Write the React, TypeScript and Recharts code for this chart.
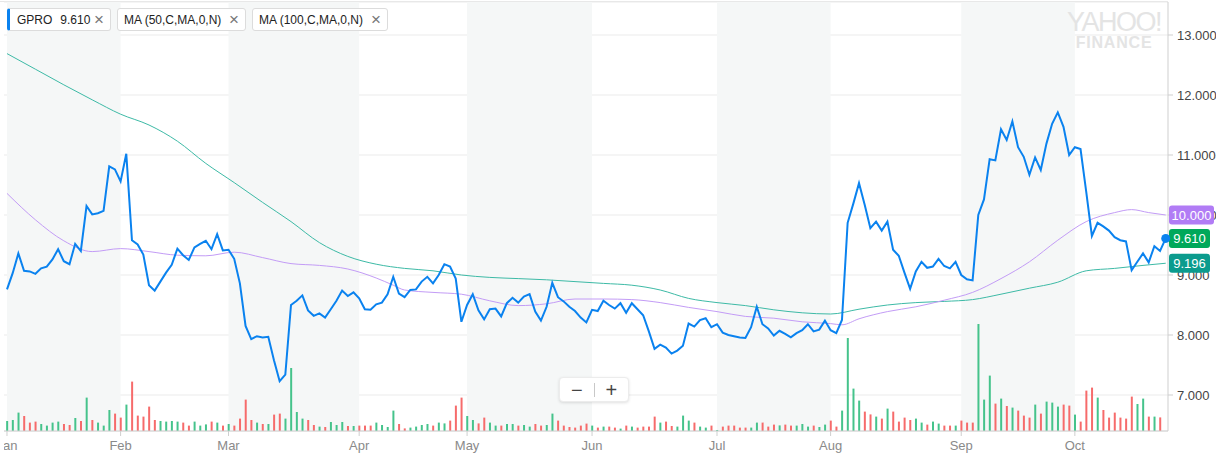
import React from 'react';
import {
  ComposedChart,
  Line,
  Bar,
  Cell,
  XAxis,
  YAxis,
  CartesianGrid,
  ReferenceArea,
  ReferenceLine,
  ReferenceDot,
} from 'recharts';

// GPRO daily closes, Jan 3 – late Oct (one value per trading day)
const CLOSE = [
  8.76, 9.03, 9.36, 9.07, 9.06, 9.02, 9.11, 9.14, 9.26, 9.43,
  9.23, 9.18, 9.52, 9.4, 10.15, 10.01, 10.03, 10.07, 10.81, 10.76,
  10.56, 11.02, 9.58, 9.51, 9.34, 8.83, 8.74, 8.89, 9.04, 9.17,
  9.44, 9.33, 9.25, 9.46, 9.52, 9.57, 9.43, 9.68, 9.41, 9.42,
  9.27, 8.86, 8.15, 7.93, 7.98, 7.96, 7.97, 7.58, 7.23, 7.34,
  8.5, 8.57, 8.66, 8.41, 8.32, 8.36, 8.29, 8.43, 8.57, 8.74,
  8.65, 8.71, 8.61, 8.43, 8.42, 8.51, 8.54, 8.68, 8.97, 8.69,
  8.63, 8.75, 8.76, 8.89, 8.97, 8.86, 9.0, 9.18, 9.14, 8.94,
  8.22, 8.5, 8.68, 8.41, 8.26, 8.43, 8.44, 8.31, 8.53, 8.62,
  8.54, 8.64, 8.68, 8.39, 8.24, 8.47, 8.87, 8.63, 8.56, 8.47,
  8.4, 8.29, 8.21, 8.42, 8.4, 8.57, 8.5, 8.44, 8.53, 8.37,
  8.53, 8.43, 8.33, 8.06, 7.77, 7.84, 7.79, 7.69, 7.74, 7.82,
  8.19, 8.14, 8.25, 8.28, 8.13, 8.18, 8.04, 8.0, 7.98, 7.96,
  7.95, 8.13, 8.47, 8.18, 8.11, 7.99, 8.07, 8.02, 7.96, 8.03,
  8.08, 8.18, 8.06, 8.09, 8.24, 8.08, 8.03, 8.25, 9.87, 10.19,
  10.53, 10.17, 9.78, 9.89, 9.74, 9.89, 9.42, 9.32, 9.04, 8.77,
  9.06, 9.22, 9.12, 9.14, 9.27, 9.15, 9.11, 9.22, 9.0, 8.93,
  8.91, 10.0, 10.26, 10.93, 10.91, 11.43, 11.25, 11.56, 11.13, 10.97,
  10.67, 10.96, 10.75, 11.19, 11.52, 11.71, 11.47, 11.0, 11.13, 11.1,
  10.39, 9.65, 9.87, 9.81, 9.74, 9.63, 9.58, 9.56, 9.08, 9.22,
  9.36, 9.21, 9.48, 9.4, 9.61,
];

// volume in millions of shares (no bar yet for the last day)
const VOLUME = [
  5.0, 5.5, 9.2, 7.5, 4.2, 4.7, 3.5, 2.7, 4.2, 4.7,
  3.5, 3.0, 6.5, 5.0, 16.7, 5.5, 4.2, 2.7, 10.5, 8.7,
  6.7, 13.2, 24.7, 7.7, 7.2, 12.2, 5.5, 5.0, 4.7, 5.0,
  4.7, 4.2, 2.7, 4.7, 2.7, 3.3, 4.7, 4.2, 2.7, 3.5,
  2.7, 6.2, 15.7, 5.5, 4.2, 3.5, 3.5, 8.2, 8.7, 6.2,
  31.5, 9.5, 6.2, 5.5, 3.0, 2.2, 2.0, 4.5, 3.0, 4.5,
  2.5, 2.5, 2.7, 2.7, 2.7, 4.2, 3.0, 2.0, 10.2, 3.5,
  1.3, 1.7, 2.2, 3.0, 3.5, 2.7, 4.2, 3.8, 5.2, 12.7,
  16.7, 7.5, 5.5, 3.8, 6.7, 4.2, 2.7, 2.7, 3.5, 3.5,
  2.7, 3.0, 2.2, 3.5, 2.7, 3.0, 8.7, 5.2, 2.7, 2.0,
  1.7, 2.7, 3.7, 2.7, 1.7, 2.2, 2.2, 1.7, 1.2, 2.7,
  2.2, 1.7, 2.2, 2.2, 7.2, 4.2, 4.7, 2.5, 2.2, 7.7,
  5.2, 4.2, 2.2, 1.7, 2.7, 0.5, 2.2, 2.7, 2.7, 1.7,
  1.7, 1.7, 4.2, 4.2, 2.2, 3.2, 2.8, 3.2, 2.7, 2.7,
  3.5, 2.2, 2.7, 2.0, 3.2, 5.2, 2.2, 10.2, 46.5, 21.2,
  15.2, 9.7, 8.3, 7.2, 6.2, 11.2, 9.7, 4.7, 6.7, 5.5,
  6.2, 4.2, 3.2, 4.7, 3.7, 2.7, 2.7, 2.7, 5.2, 4.2,
  4.2, 53.5, 15.7, 27.7, 13.7, 16.2, 12.5, 11.7, 10.2, 7.7,
  6.7, 13.2, 8.7, 14.7, 14.2, 12.2, 13.2, 12.7, 8.2, 4.7,
  20.2, 21.7, 16.7, 10.5, 6.7, 9.2, 6.7, 6.2, 17.2, 13.5,
  16.2, 7.2, 7.2, 6.8,
];

// moving averages, read every few sessions: [day index, value]
const MA50_POINTS: [number, number][] = [
  [0, 10.36], [5, 9.92], [10, 9.57], [15, 9.39], [20, 9.44], [25, 9.39],
  [30, 9.33], [35, 9.32], [40, 9.38], [45, 9.29], [50, 9.19], [55, 9.16],
  [60, 9.1], [65, 8.95], [68, 8.83], [70, 8.75], [75, 8.71], [80, 8.68],
  [85, 8.57], [90, 8.49], [95, 8.52], [100, 8.6], [105, 8.6], [110, 8.59],
  [115, 8.54], [120, 8.46], [125, 8.39], [130, 8.31], [135, 8.28], [140, 8.22],
  [145, 8.19], [147, 8.17], [150, 8.27], [155, 8.39], [160, 8.47], [165, 8.58],
  [170, 8.71], [175, 8.94], [180, 9.22], [185, 9.58], [190, 9.89], [195, 10.04],
  [198, 10.09], [201, 10.04], [204, 10.0],
];

const MA100_POINTS: [number, number][] = [
  [0, 12.69], [5, 12.43], [10, 12.17], [15, 11.92], [20, 11.68], [25, 11.5],
  [30, 11.23], [35, 10.86], [40, 10.54], [45, 10.21], [50, 9.89], [55, 9.54],
  [60, 9.31], [65, 9.18], [70, 9.11], [75, 9.07], [80, 9.0], [85, 8.96],
  [90, 8.94], [95, 8.92], [100, 8.89], [105, 8.86], [110, 8.83], [115, 8.75],
  [120, 8.61], [125, 8.54], [130, 8.49], [135, 8.42], [140, 8.37], [145, 8.35],
  [150, 8.43], [155, 8.5], [160, 8.54], [165, 8.56], [170, 8.59], [175, 8.68],
  [180, 8.78], [185, 8.88], [190, 9.07], [195, 9.11], [200, 9.16], [204, 9.196],
];

const MONTHS = ['Jan', 'Feb', 'Mar', 'Apr', 'May', 'Jun', 'Jul', 'Aug', 'Sep', 'Oct'];
const MONTH_START = [0, 20, 39, 62, 81, 103, 125, 145, 168, 188];
const SHADED = [0, 2, 4, 6, 8]; // Jan, Mar, May, Jul, Sep
const PRICE_TICKS = [7, 8, 9, 10, 11, 12, 13];

const BLUE = '#0a82ef';
const UP = '#45c38b';
const DOWN = '#f66b6b';
const MA50_LINE = '#c39cf6';
const MA100_LINE = '#3dbaa6';

const ma50 = new Map(MA50_POINTS);
const ma100 = new Map(MA100_POINTS);
const data = CLOSE.map((close, i) => ({
  i,
  close,
  vol: VOLUME[i] ?? null,
  ma50: ma50.get(i) ?? null,
  ma100: ma100.get(i) ?? null,
}));

const lastIdx = CLOSE.length - 1;
const lastClose = CLOSE[lastIdx];
const lastMa50 = MA50_POINTS[MA50_POINTS.length - 1][1];
const lastMa100 = MA100_POINTS[MA100_POINTS.length - 1][1];

const FONT = '"Helvetica Neue", Helvetica, Arial, "Liberation Sans", sans-serif';
const W = 1212; // chart starts 4px in, so the Jan label gets clipped like the original
const H = 461;
const MARGIN = { top: 2, right: 0, bottom: 0, left: 0 };
const X_DOMAIN = [-0.528, 204.4];
const Y_DOMAIN = [6.4, 13.55];

const tag = (text: string, fill: string, w: number) => (props: any) => {
  const vb = props.viewBox || {};
  const x = (vb.x ?? 0) + (vb.width ?? 0) + 1;
  const y = vb.y ?? 0;
  return (
    <g>
      <rect x={x} y={y - 9.5} width={w} height={19} rx={3} fill={fill} />
      <text x={x + w / 2} y={y} dy="0.36em" textAnchor="middle" fill="#fff" fontSize={13} fontFamily={FONT}>
        {text}
      </text>
    </g>
  );
};

const Chip = ({ left, width, stripe, children }: any) => (
  <div
    style={{
      position: 'absolute',
      left,
      top: 8,
      width,
      height: 23,
      boxSizing: 'border-box',
      background: '#fff',
      border: '1px solid #dcdcdc',
      borderLeft: stripe ? `3px solid ${BLUE}` : '1px solid #dcdcdc',
      borderRadius: 3,
      display: 'flex',
      alignItems: 'center',
      paddingLeft: stripe ? 7 : 6,
      fontSize: 12,
      color: '#222',
      whiteSpace: 'nowrap',
    }}
  >
    {children}
    <span style={{ position: 'absolute', right: 6, top: 1, fontSize: 17, color: '#777', lineHeight: '20px' }}>×</span>
  </div>
);

export default function App() {
  return (
    <div style={{ position: 'absolute', left: 0, top: 0, width: 1216, height: H, background: '#fff', fontFamily: FONT, overflow: 'hidden' }}>
      <div style={{ position: 'absolute', left: 0, top: 1, width: 1168, height: 1, background: '#e6e6e6' }} />

      {/* main chart: bands, grid, axes, volume, price and moving averages */}
      <div style={{ position: 'absolute', left: 4, top: 0 }}>
        <ComposedChart width={W} height={H} data={data} margin={MARGIN}>
          {SHADED.map((m) => (
            <ReferenceArea
              key={m}
              yAxisId="price"
              x1={MONTH_START[m]}
              x2={MONTH_START[m + 1]}
              fill="#f5f7f7"
              fillOpacity={1}
              stroke="none"
            />
          ))}
          <CartesianGrid yAxisId="price" vertical={false} stroke="#ebebeb" />
          <XAxis
            dataKey="i"
            type="number"
            domain={X_DOMAIN}
            allowDataOverflow
            ticks={MONTH_START}
            interval={0}
            tickFormatter={(v) => MONTHS[MONTH_START.indexOf(v)]}
            height={30}
            tickSize={5}
            tickMargin={5}
            axisLine={{ stroke: '#cfcfcf' }}
            tickLine={{ stroke: '#cfcfcf' }}
            tick={{ fill: '#8a8a8a', fontSize: 13, fontFamily: FONT }}
          />
          <YAxis
            yAxisId="price"
            orientation="right"
            domain={Y_DOMAIN}
            allowDataOverflow
            ticks={PRICE_TICKS}
            tickFormatter={(v) => v.toFixed(3)}
            width={48}
            tickSize={5}
            tickMargin={4}
            axisLine={{ stroke: '#cfcfcf' }}
            tickLine={{ stroke: '#cfcfcf' }}
            tick={{ fill: '#444', fontSize: 13, fontFamily: FONT, textAnchor: 'start' }}
          />
          <YAxis yAxisId="vol" hide domain={[0, 214.5]} allowDataOverflow />
          <Bar yAxisId="vol" dataKey="vol" barSize={2} isAnimationActive={false}>
            {data.map((d, i) => (
              <Cell key={i} fill={i === 0 || d.close >= CLOSE[i - 1] ? UP : DOWN} />
            ))}
          </Bar>
          <Line
            yAxisId="price"
            dataKey="ma100"
            type="monotone"
            stroke={MA100_LINE}
            strokeWidth={1}
            dot={false}
            connectNulls
            isAnimationActive={false}
          />
          <Line
            yAxisId="price"
            dataKey="ma50"
            type="monotone"
            stroke={MA50_LINE}
            strokeWidth={1}
            dot={false}
            connectNulls
            isAnimationActive={false}
          />
          <Line
            yAxisId="price"
            dataKey="close"
            type="linear"
            stroke={BLUE}
            strokeWidth={2}
            dot={false}
            isAnimationActive={false}
          />
        </ComposedChart>
      </div>

      {/* same scales again on top, only for the last-value tags so they cover the axis labels */}
      <div style={{ position: 'absolute', left: 4, top: 0, pointerEvents: 'none' }}>
        <ComposedChart width={W} height={H} data={data} margin={MARGIN}>
          <XAxis
            dataKey="i"
            type="number"
            domain={X_DOMAIN}
            allowDataOverflow
            height={30}
            tick={false}
            axisLine={false}
            tickLine={false}
          />
          <YAxis
            yAxisId="price"
            orientation="right"
            domain={Y_DOMAIN}
            allowDataOverflow
            width={48}
            tick={false}
            axisLine={false}
            tickLine={false}
          />
          <ReferenceDot yAxisId="price" x={lastIdx} y={lastClose} r={4.5} fill={BLUE} stroke="none" />
          <ReferenceLine yAxisId="price" y={lastMa50} stroke="none" label={tag(lastMa50.toFixed(3), '#b17cf5', 45)} />
          <ReferenceLine yAxisId="price" y={lastClose} stroke="none" label={tag(lastClose.toFixed(3), '#00a85a', 41)} />
          <ReferenceLine yAxisId="price" y={lastMa100} stroke="none" label={tag(lastMa100.toFixed(3), '#0b9b8d', 41)} />
        </ComposedChart>
      </div>

      <Chip left={7} width={104} stripe>
        <span>GPRO</span>
        <span style={{ marginLeft: 8 }}>{lastClose.toFixed(3)}</span>
      </Chip>
      <Chip left={117} width={129}>MA (50,C,MA,0,N)</Chip>
      <Chip left={252} width={136}>MA (100,C,MA,0,N)</Chip>

      <div style={{ position: 'absolute', left: 1064, top: 11, width: 100, pointerEvents: 'none', color: '#e4e4e4', textAlign: 'center' }}>
        <div style={{ fontSize: 27, letterSpacing: -1.5, lineHeight: '22px', fontWeight: 300 }}>YAHOO!</div>
        <div style={{ fontSize: 16, fontWeight: 700, letterSpacing: 0.8, lineHeight: '13px', marginTop: 3 }}>FINANCE</div>
      </div>

      <div
        style={{
          position: 'absolute',
          left: 559,
          top: 377,
          width: 70,
          height: 25,
          boxSizing: 'border-box',
          background: '#fff',
          border: '1px solid #ececec',
          borderRadius: 4,
          boxShadow: '0 1px 3px rgba(0,0,0,0.12)',
          display: 'flex',
          alignItems: 'center',
          color: '#444',
          fontSize: 20,
        }}
      >
        <span style={{ flex: 1, textAlign: 'center', lineHeight: '22px' }}>−</span>
        <span style={{ width: 1, height: 14, background: '#c8c8c8' }} />
        <span style={{ flex: 1, textAlign: 'center', lineHeight: '22px' }}>+</span>
      </div>
    </div>
  );
}
